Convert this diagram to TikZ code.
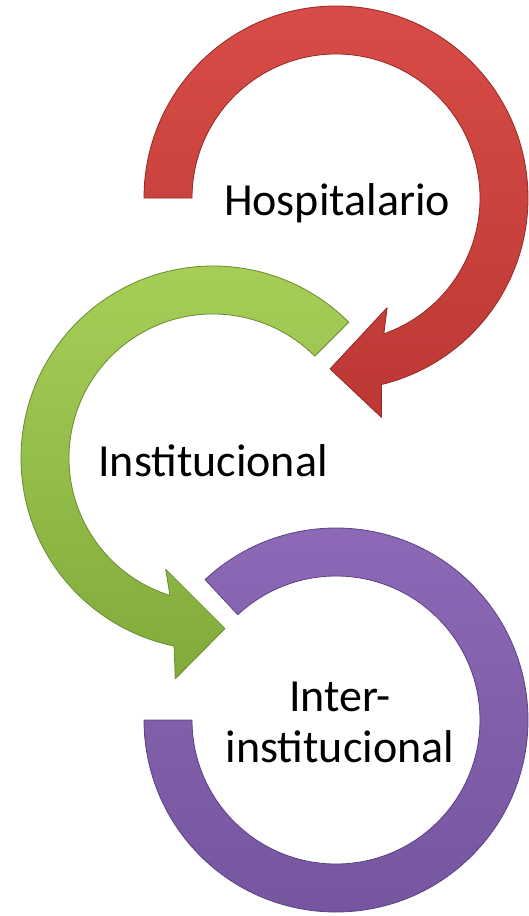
\documentclass[tikz,border=0pt]{standalone}
\usepackage{fontspec}
\setmainfont{Carlito}
\definecolor{redtop}{RGB}{216,76,71}
\definecolor{redbot}{RGB}{188,56,52}
\definecolor{redline}{RGB}{150,40,37}
\definecolor{greentop}{RGB}{168,208,88}
\definecolor{greenbot}{RGB}{130,170,60}
\definecolor{greenline}{RGB}{105,140,48}
\definecolor{purptop}{RGB}{142,106,184}
\definecolor{purpbot}{RGB}{116,85,158}
\definecolor{purpline}{RGB}{92,66,128}
\begin{document}
\begin{tikzpicture}[x=1pt,y=1pt,
  arrowshape/.style={line width=0.8pt, line join=round},
  lbl/.style={font=\fontsize{46}{51}\selectfont, text=black, inner sep=0pt, align=center}]
\useasboundingbox (0,0) rectangle (529,-916);
\fill[white] (0,0) rectangle (529,-916);

% red arrow (Hospitalario)
\begin{scope}[shift={(336,-198)}]
\path[arrowshape, draw=redline, top color=redtop, bottom color=redbot]
  (180:192) arc[start angle=180, end angle=-76.3, radius=192]
  -- (-78.3:224) -- (-92:171) -- (-65:121) -- (-70.6:144)
  arc[start angle=-70.6, end angle=180, radius=144] -- cycle;
\end{scope}

% green arrow (Institucional)
\begin{scope}[shift={(213,-458)}]
\path[arrowshape, draw=greenline, top color=greentop, bottom color=greenbot]
  (45:192) arc[start angle=45, end angle=258.3, radius=192]
  -- (260.3:224) -- (274:171) -- (247:121) -- (252.6:144)
  arc[start angle=252.6, end angle=45, radius=144] -- cycle;
\end{scope}

% purple arc (Inter-institucional)
\begin{scope}[shift={(336,-720)}]
\path[arrowshape, draw=purpline, top color=purptop, bottom color=purpbot]
  (133:192) arc[start angle=133, end angle=-180, radius=192]
  -- (180:144) arc[start angle=-180, end angle=133, radius=144] -- cycle;
\end{scope}

\node[lbl, anchor=base] (hosp) at (337,-215) {Hospitalario};
\node[lbl, anchor=base] (inst) at (213,-476) {Institucional};
\node[lbl, anchor=center] (inter) at (340,-722.7) {Inter-\\institucional};
\end{tikzpicture}
\end{document}
